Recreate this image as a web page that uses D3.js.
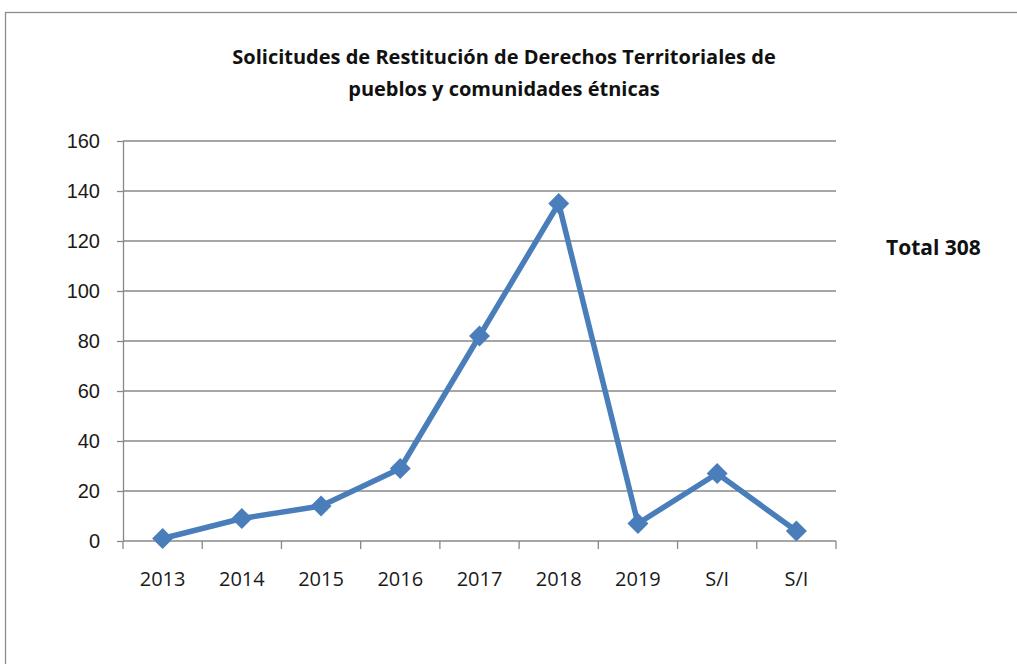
<!DOCTYPE html>
<html>
<head>
<meta charset="utf-8">
<script src="https://cdn.jsdelivr.net/npm/d3@7"></script>
<style>
  body { margin: 0; background: #fff; }
  svg { display: block; font-family: "Open Sans", "DejaVu Sans", sans-serif; }
  .grid line { stroke: #888; stroke-width: 1.3; }
  .axis path, .axis line { stroke: #888; stroke-width: 1.3; }
  .axis text { fill: #1a1a1a; font-size: 20px; }
</style>
</head>
<body>
<svg id="chart" width="1017" height="664"></svg>
<script>
// data
var years = ["2013", "2014", "2015", "2016", "2017", "2018", "2019", "S/I", "S/I "];
var solicitudes = [1, 9, 14, 29, 82, 135, 7, 27, 4];
var yTicks = [0, 20, 40, 60, 80, 100, 120, 140, 160];
var titleLines = ["Solicitudes de Restitución de Derechos Territoriales de", "pueblos y comunidades étnicas"];
var totalLabel = "Total 308";

var svg = d3.select("#chart");
var margin = { top: 141, left: 123 };
var contentWidth = 713, contentHeight = 400;

// outer frame, cut off at right and bottom like the screenshot
svg.append("rect")
  .attr("x", 5.5).attr("y", 12.5)
  .attr("width", 1030).attr("height", 670)
  .attr("fill", "none").attr("stroke", "#8c8c8c").attr("stroke-width", 1.3);

svg.selectAll("text.title")
  .data(titleLines)
  .enter().append("text")
  .attr("class", "title")
  .attr("x", 504)
  .attr("y", function (d, i) { return 64 + i * 32; })
  .attr("text-anchor", "middle")
  .style("font-size", "20px")
  .style("font-weight", "bold")
  .style("fill", "#111")
  .text(function (d) { return d; });

svg.append("text")
  .attr("x", 886).attr("y", 255)
  .style("font-size", "21px")
  .style("font-weight", "bold")
  .style("fill", "#111")
  .text(totalLabel);

var g = svg.append("g").attr("transform", "translate(" + margin.left + "," + margin.top + ")");

var xScale = d3.scaleBand()
  .domain(years)
  .range([0, contentWidth]);

var yScale = d3.scaleLinear()
  .domain([0, 160])
  .range([contentHeight, 0]);

g.append("g")
  .attr("class", "grid")
  .selectAll("line")
  .data(yTicks.slice(1))
  .enter().append("line")
  .attr("x1", 0).attr("x2", contentWidth)
  .attr("y1", function (d) { return yScale(d); })
  .attr("y2", function (d) { return yScale(d); });

g.append("g")
  .attr("class", "y axis")
  .call(d3.axisLeft(yScale).tickValues(yTicks).tickSize(6).tickPadding(17).tickSizeOuter(0));

// category boundary ticks
var xAxis = g.append("g")
  .attr("class", "x axis")
  .attr("transform", "translate(0," + contentHeight + ")");
xAxis.append("line")
  .attr("x1", 0).attr("x2", contentWidth);
xAxis.selectAll("line.tk")
  .data(d3.range(years.length + 1))
  .enter().append("line")
  .attr("class", "tk")
  .attr("x1", function (i) { return i * xScale.step(); })
  .attr("x2", function (i) { return i * xScale.step(); })
  .attr("y1", 0).attr("y2", 8);
xAxis.selectAll("text")
  .data(years)
  .enter().append("text")
  .attr("x", function (d) { return xScale(d) + xScale.bandwidth() / 2; })
  .attr("y", 45)
  .attr("text-anchor", "middle")
  .text(function (d) { return d.trim(); });

var pts = years.map(function (y, i) { return { x: y, y: solicitudes[i] }; });

var line = d3.line()
  .x(function (d) { return xScale(d.x) + xScale.bandwidth() / 2; })
  .y(function (d) { return yScale(d.y); });

g.append("path")
  .datum(pts)
  .attr("fill", "none")
  .attr("stroke", "#4a7ebb")
  .attr("stroke-width", 5.5)
  .attr("stroke-linejoin", "round")
  .attr("d", line);

g.selectAll("path.mark")
  .data(pts)
  .enter().append("path")
  .attr("class", "mark")
  .attr("d", d3.symbol().type(d3.symbolDiamond2).size(280))
  .attr("transform", function (d) {
    return "translate(" + (xScale(d.x) + xScale.bandwidth() / 2) + "," + yScale(d.y) + ")";
  })
  .attr("fill", "#4a7ebb");
</script>
</body>
</html>
